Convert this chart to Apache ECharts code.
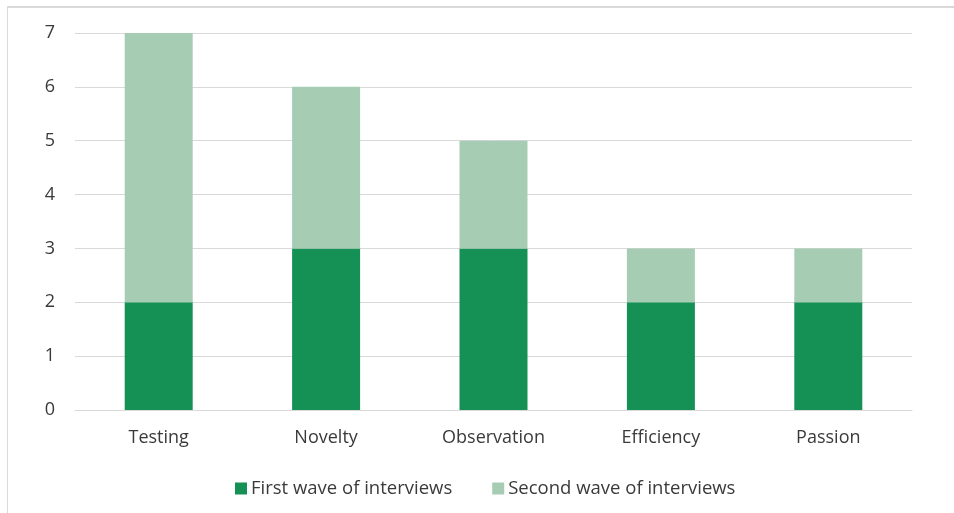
<!DOCTYPE html>
<html>
<head>
<meta charset="utf-8">
<script src="https://cdn.jsdelivr.net/npm/echarts@6/dist/echarts.min.js"></script>
<style>
  html, body { margin: 0; padding: 0; background: #fff; }
  #frame { position: absolute; left: 7px; top: 6px; width: 960px; height: 520px;
           border-top: 2px solid #d9d9d9; border-left: 1px solid #d9d9d9; box-sizing: border-box; }
  #chart { position: absolute; left: 0; top: 0; width: 954px; height: 513px; }
</style>
</head>
<body>
<div id="frame"></div>
<div id="chart"></div>
<script>
const categories = ['Testing', 'Novelty', 'Observation', 'Efficiency', 'Passion'];
const firstWave = [2, 3, 3, 2, 2];
const secondWave = [5, 3, 2, 1, 1];
const yTicks = { min: 0, max: 7, interval: 1 };

const textColor = '#3a3a3a';
const fontFamily = '"Open Sans", "Noto Sans", sans-serif';

const chart = echarts.init(document.getElementById('chart'), null, { renderer: 'canvas' });
chart.setOption({
  animation: false,
  backgroundColor: 'transparent',
  grid: { left: 75, right: 42, top: 33, bottom: 103, containLabel: false },
  legend: {
    left: 230, top: 474,
    itemWidth: 12, itemHeight: 12, itemGap: 40,
    icon: 'rect',
    textStyle: { color: textColor, fontSize: 18.5, fontFamily: fontFamily, padding: [0, 0, 0, -1] },
    data: ['First wave of interviews', 'Second wave of interviews']
  },
  xAxis: {
    type: 'category',
    data: categories,
    axisLine: { show: true, lineStyle: { color: '#d9d9d9', width: 1 } },
    axisTick: { show: false },
    axisLabel: { color: textColor, fontSize: 18, fontFamily: fontFamily, margin: 19 }
  },
  yAxis: {
    type: 'value',
    min: yTicks.min, max: yTicks.max, interval: yTicks.interval,
    axisLine: { show: false },
    axisTick: { show: false },
    splitLine: { lineStyle: { color: '#d9d9d9', width: 1 } },
    axisLabel: { color: textColor, fontSize: 18, fontFamily: fontFamily, margin: 20 }
  },
  series: [
    {
      name: 'First wave of interviews', type: 'bar', stack: 'waves',
      data: firstWave, barWidth: 68,
      itemStyle: { color: '#169155' }
    },
    {
      name: 'Second wave of interviews', type: 'bar', stack: 'waves',
      data: secondWave, barWidth: 68,
      itemStyle: { color: '#a6cdb3' }
    }
  ]
});
</script>
</body>
</html>
